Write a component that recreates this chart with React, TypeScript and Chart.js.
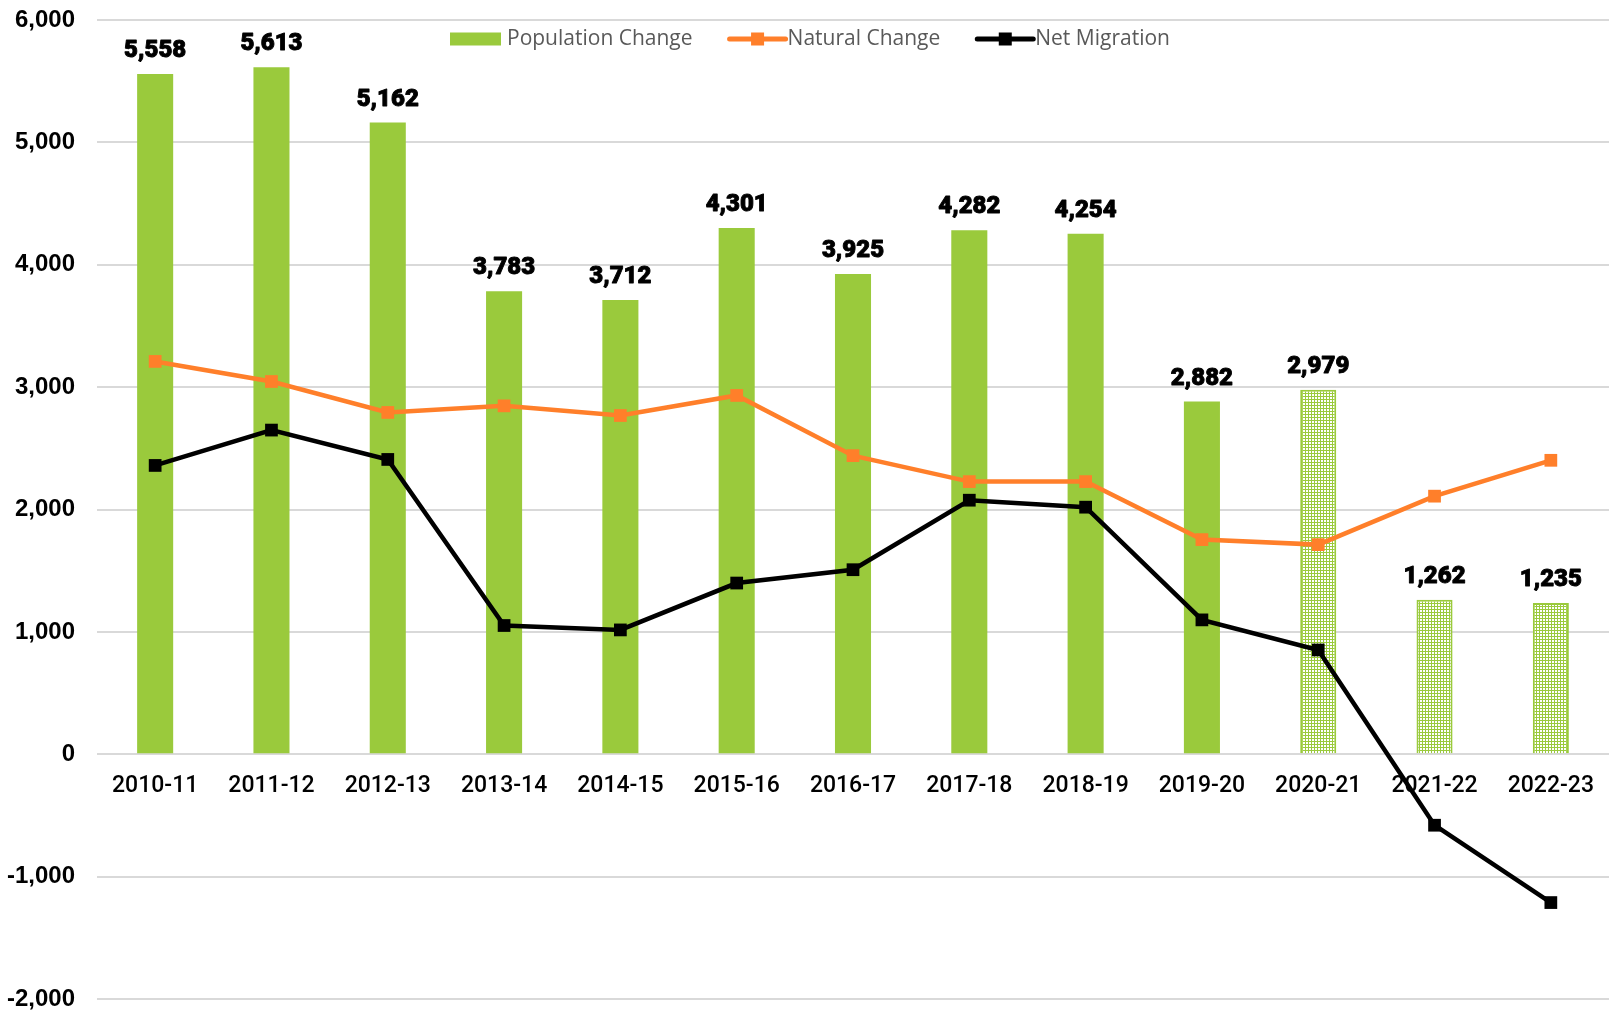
import React, { useEffect, useRef } from 'react';
import { Chart, registerables } from 'chart.js';

Chart.register(...registerables);

const categories = [
  '2010-11', '2011-12', '2012-13', '2013-14', '2014-15', '2015-16', '2016-17',
  '2017-18', '2018-19', '2019-20', '2020-21', '2021-22', '2022-23',
];
const populationChange = [5558, 5613, 5162, 3783, 3712, 4301, 3925, 4282, 4254, 2882, 2979, 1262, 1235];
const naturalChange = [3210, 3046, 2793, 2847, 2768, 2932, 2440, 2228, 2228, 1754, 1713, 2109, 2402];
const netMigration = [2360, 2649, 2409, 1052, 1016, 1399, 1508, 2076, 2019, 1098, 852, -580, -1212];
const hatched = [false, false, false, false, false, false, false, false, false, false, true, true, true];
const seriesLabels = ['Population Change', 'Natural Change', 'Net Migration'];
const yMin = -2000;
const yMax = 6000;
const yStep = 1000;

const GREEN = '#9aca3c';
const ORANGE = '#ff7f2a';
const BLACK = '#000000';
const fmt = (v: number) => v.toLocaleString('en-US');

export default function App() {
  const ref = useRef<HTMLCanvasElement>(null);

  useEffect(() => {
    const canvas = ref.current!;
    const pc = document.createElement('canvas');
    pc.width = 3;
    pc.height = 3;
    const pctx = pc.getContext('2d')!;
    pctx.fillStyle = GREEN;
    pctx.fillRect(0, 0, 3, 3);
    pctx.fillStyle = '#ffffff';
    pctx.fillRect(1, 1, 2, 2);
    const pattern = canvas.getContext('2d')!.createPattern(pc, 'repeat')!;

    const barLabelPlugin = {
      id: 'barLabels',
      afterDatasetsDraw(chart: any) {
        const ctx = chart.ctx;
        const meta = chart.getDatasetMeta(0);
        ctx.save();
        ctx.font = '900 24px Roboto';
        ctx.fillStyle = '#000';
        ctx.strokeStyle = '#000';
        ctx.lineWidth = 0.9;
        ctx.lineJoin = 'round';
        ctx.textAlign = 'center';
        ctx.textBaseline = 'middle';
        meta.data.forEach((bar: any, i: number) => {
          const t = fmt(populationChange[i]);
          ctx.fillText(t, bar.x, bar.y - 23);
          ctx.strokeText(t, bar.x, bar.y - 23);
        });
        ctx.restore();
      },
    };

    const legendPlugin = {
      id: 'customLegend',
      afterDraw(chart: any) {
        const ctx = chart.ctx;
        ctx.save();
        ctx.font = '21px "Open Sans"';
        ctx.textBaseline = 'middle';
        ctx.textAlign = 'left';
        let x = 450;
        const y = 39;
        ctx.fillStyle = GREEN;
        ctx.fillRect(x, y - 6.5, 51, 13);
        x += 57;
        ctx.fillStyle = '#595959';
        ctx.fillText(seriesLabels[0], x, y);
        x += ctx.measureText(seriesLabels[0]).width + 35;
        const lines = [
          { label: seriesLabels[1], color: ORANGE },
          { label: seriesLabels[2], color: BLACK },
        ];
        lines.forEach((it) => {
          ctx.strokeStyle = it.color;
          ctx.lineWidth = 5;
          ctx.lineCap = 'round';
          ctx.beginPath();
          ctx.moveTo(x + 2, y);
          ctx.lineTo(x + 58, y);
          ctx.stroke();
          ctx.fillStyle = it.color;
          ctx.fillRect(x + 30 - 6.5, y - 6.5, 13, 13);
          x += 60;
          ctx.fillStyle = '#595959';
          ctx.fillText(it.label, x, y);
          x += ctx.measureText(it.label).width + 35;
        });
        ctx.restore();
      },
    };

    const chart = new Chart(canvas, {
      type: 'bar',
      data: {
        labels: categories,
        datasets: [
          {
            type: 'bar',
            label: seriesLabels[0],
            data: populationChange,
            backgroundColor: hatched.map((h) => (h ? pattern : GREEN)) as any,
            borderColor: hatched.map((h) => (h ? GREEN : 'rgba(0,0,0,0)')),
            borderWidth: hatched.map((h) => (h ? 2 : 0)),
            barPercentage: 0.31,
            categoryPercentage: 1,
            order: 3,
          },
          {
            type: 'line',
            label: seriesLabels[1],
            data: naturalChange,
            borderColor: ORANGE,
            backgroundColor: ORANGE,
            borderWidth: 4.5,
            pointStyle: 'rect',
            pointRadius: 9,
            pointHoverRadius: 9,
            pointBorderWidth: 0,
            tension: 0,
            order: 2,
          },
          {
            type: 'line',
            label: seriesLabels[2],
            data: netMigration,
            borderColor: BLACK,
            backgroundColor: BLACK,
            borderWidth: 4.5,
            pointStyle: 'rect',
            pointRadius: 9,
            pointHoverRadius: 9,
            pointBorderWidth: 0,
            tension: 0,
            order: 1,
          },
        ] as any,
      },
      options: {
        animation: false,
        responsive: true,
        maintainAspectRatio: false,
        layout: { autoPadding: false, padding: { top: 20, bottom: 12, left: 0, right: 2 } },
        plugins: {
          legend: { display: false },
          tooltip: { enabled: false },
        },
        scales: {
          x: {
            type: 'category',
            position: { y: 0 } as any,
            offset: true,
            grid: { display: false, drawTicks: false },
            border: { display: false },
            afterFit: (scale: any) => {
              scale.paddingTop = 0;
              scale.paddingBottom = 0;
              scale.paddingLeft = 0;
              scale.paddingRight = 0;
            },
            ticks: {
              color: '#000',
              font: { family: 'Roboto', size: 23, weight: 500 },
              padding: 18,
              maxRotation: 0,
              autoSkip: false,
            },
          },
          y: {
            min: yMin,
            max: yMax,
            afterFit: (scale: any) => {
              scale.width = 97;
              scale.paddingTop = 0;
              scale.paddingBottom = 0;
            },
            grid: { color: '#d9d9d9', lineWidth: 2, drawTicks: false },
            border: { display: false },
            ticks: {
              stepSize: yStep,
              color: '#000',
              font: { family: '"Liberation Sans"', size: 24, weight: 'bold', lineHeight: 1 },
              padding: 22,
              callback: (v: any) => fmt(Number(v)),
            },
          },
        },
      },
      plugins: [barLabelPlugin, legendPlugin],
    });
    return () => chart.destroy();
  }, []);

  return (
    <div style={{ position: 'fixed', left: 0, top: 0, width: 1611, height: 1011, background: '#fff' }}>
      <canvas ref={ref} />
    </div>
  );
}
